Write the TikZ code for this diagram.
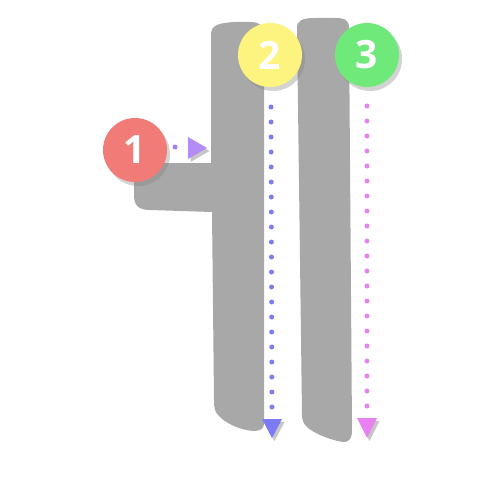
\documentclass[tikz,border=0pt]{standalone}
\usepackage{fontspec}
\setsansfont{Open Sans}
\usetikzlibrary{shadows}
\definecolor{strokegray}{HTML}{A8A8A8}
\definecolor{redc}{HTML}{F07B77}
\definecolor{yellowc}{HTML}{FDF47F}
\definecolor{greenc}{HTML}{70E97B}
\definecolor{bluec}{HTML}{7B7BF6}
\definecolor{magc}{HTML}{E882F2}
\definecolor{purpc}{HTML}{B48CF8}
\definecolor{purpdot}{HTML}{9A82F2}
\tikzset{
  numcircle/.style={circle, minimum size=64pt, inner sep=0pt, text=white,
    font=\sffamily\bfseries\fontsize{39}{39}\selectfont,
    drop shadow={shadow xshift=3pt, shadow yshift=-4pt, opacity=0.35}},
  glyph/.style={fill=strokegray},
  dotline/.style={line width=5pt, line cap=round, dash pattern=on 0pt off 15pt},
  tip/.style={drop shadow={shadow xshift=2.5pt, shadow yshift=-3pt, opacity=0.45}}
}
\begin{document}
\begin{tikzpicture}[x=1pt,y=-1pt]
\useasboundingbox (0,0) rectangle (500,500);
% glyph shapes
\fill[glyph] (211,35) .. controls (211,25) and (218,23) .. (235,22) -- (250,22)
  .. controls (260,22) and (264,26) .. (264,35) -- (264,424)
  .. controls (264,429) and (260,431) .. (253,431)
  .. controls (240,430) and (225,423) .. (219,416)
  .. controls (215,412) and (214,409) .. (214,400) -- (212,212) -- (150,210)
  .. controls (138,210) and (134,205) .. (134,195) -- (134,178)
  .. controls (134,167) and (140,163) .. (150,163) -- (211,163) -- cycle;
\fill[glyph] (297,28) .. controls (297,20) and (303,18) .. (315,18) -- (335,18)
  .. controls (345,18) and (349,20) .. (349,28) -- (352,430)
  .. controls (352,438) and (350,442) .. (343,442)
  .. controls (330,440) and (313,433) .. (307,427)
  .. controls (303,423) and (302,420) .. (302,414) -- cycle;
% stroke 1
\coordinate (s1) at (175,147);
\coordinate (t1) at (188,148);
\fill[purpdot] (s1) circle (2.5pt);
\fill[purpc, tip] (188,137) -- (207,148) -- (188,159) -- cycle;
% stroke 2
\coordinate (s2) at (271,107);
\coordinate (t2) at (272,419);
\draw[bluec, dotline] (s2) -- (t2);
\fill[bluec, tip] (262,419) -- (282,419) -- (272,438) -- cycle;
% stroke 3
\coordinate (s3) at (367,106);
\coordinate (t3) at (367,418);
\draw[magc, dotline] (s3) -- (t3);
\fill[magc, tip] (357,418) -- (377,418) -- (367,438) -- cycle;
% number circles
\node[numcircle, fill=redc] (n1) at (135,150) {1};
\node[numcircle, fill=yellowc] (n2) at (270,55) {2};
\node[numcircle, fill=greenc] (n3) at (367,55) {3};
\end{tikzpicture}
\end{document}
